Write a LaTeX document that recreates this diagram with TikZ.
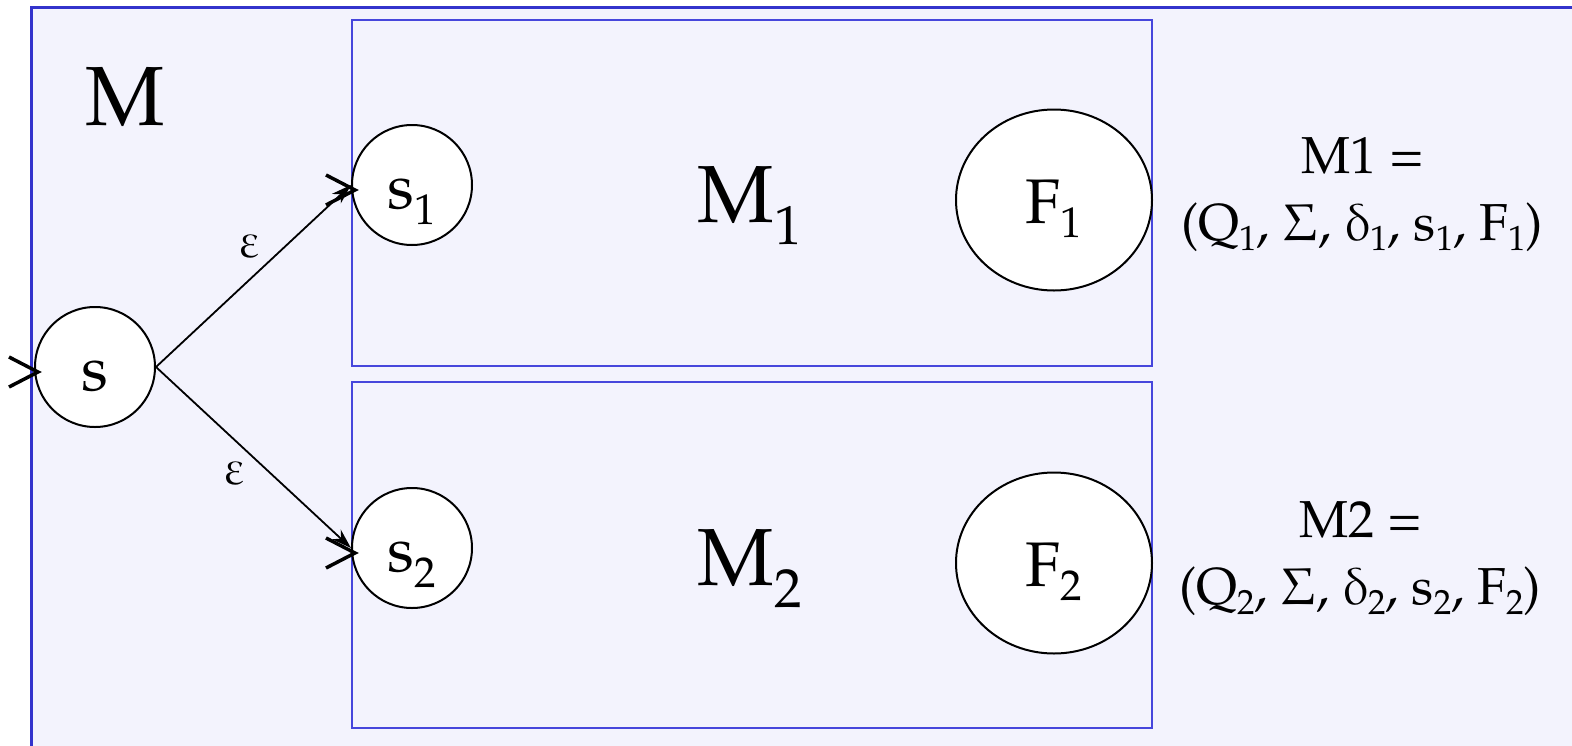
\documentclass[tikz,border=0pt]{standalone}
\usepackage[T1]{fontenc}
\usepackage{pxfonts}
\usetikzlibrary{arrows.meta,shapes.geometric}
\providecommand\deltaup{\delta}
\providecommand\varepsilonup{\varepsilon}
\newcommand\subt[3]{\raisebox{-#2pt}{\fontsize{#1}{#1}\selectfont #3}}
\definecolor{boxblue}{RGB}{51,51,204}
\definecolor{lav}{RGB}{243,243,253}
\definecolor{innerblue}{RGB}{70,70,220}
\tikzset{
  stateshape/.style={circle, draw=black, fill=white, line width=2pt, minimum size=120pt, inner sep=0pt,
    text height=46pt, text depth=0pt, font=\fontsize{63}{70}\selectfont},
  finalshape/.style={ellipse, draw=black, fill=white, line width=2pt, minimum width=196pt, minimum height=181pt,
    inner sep=0pt, text height=46pt, text depth=0pt, font=\fontsize{63}{70}\selectfont},
  machbox/.style={draw=innerblue, line width=2pt, minimum width=800pt, minimum height=346pt, inner sep=0pt},
  chev/.style={draw=black, line width=3.5pt},
  trans/.style={draw=black, line width=1.8pt, -{Stealth[length=20pt,width=13pt]}},
  elab/.style={font=\fontsize{48}{50}\selectfont, inner sep=0pt},
  biglab/.style={font=\fontsize{81}{90}\selectfont, anchor=base, inner sep=0pt},
  deflab/.style={font=\fontsize{52}{56}\selectfont, anchor=base, inner sep=0pt},
}
\begin{document}
\begin{tikzpicture}[x=1pt,y=1pt]
\useasboundingbox (0,0) rectangle (1572,-745);
\clip (0,0) rectangle (1572,-745);
\draw[boxblue, line width=3pt, fill=lav] (31,-7) rectangle (1620,-800);
\node[machbox] (m1box) at (752,-193) {};
\node[machbox] (m2box) at (752,-555) {};
\node[biglab, font=\fontsize{84}{90}\selectfont] (mlab) at (125,-125) {M};
\node[biglab] (m1lab) at (750,-222) {M\subt{55}{22}{1}};
\node[biglab] (m2lab) at (750,-585) {M\subt{55}{22}{2}};
\node[stateshape] (s) at (95,-367) {s};
\node[stateshape] (s1) at (412,-185) {s\subt{43}{16}{1}};
\node[stateshape] (s2) at (412,-548) {s\subt{43}{16}{2}};
\node[finalshape] (f1) at (1054,-200) {F\subt{43}{14}{1}};
\node[finalshape] (f2) at (1054,-563) {F\subt{43}{14}{2}};
\foreach \n in {s,s1,s2}{
  \draw[chev] ([shift={(-25,10)}]\n.west) -- ([shift={(4,-5)}]\n.west) -- ([shift={(-25,-20)}]\n.west);
}
\draw[trans] (s.east) -- node[elab, xshift=-4pt, yshift=29pt] (e1) {$\varepsilonup$} (s1.west);
\draw[trans] (s.east) -- node[elab, xshift=-19pt, yshift=-16pt] (e2) {$\varepsilonup$} (s2.west);
\node[deflab] (d1a) at (1363,-173) {M1 =};
\node[deflab] (d1b) at (1362,-240) {(Q\subt{35}{10}{1}, $\Sigma$, $\deltaup$\subt{35}{10}{1}, s\subt{35}{10}{1}, F\subt{35}{10}{1})};
\node[deflab] (d2a) at (1361,-537) {M2 =};
\node[deflab] (d2b) at (1360,-604) {(Q\subt{35}{10}{2}, $\Sigma$, $\deltaup$\subt{35}{10}{2}, s\subt{35}{10}{2}, F\subt{35}{10}{2})};
\end{tikzpicture}
\end{document}
